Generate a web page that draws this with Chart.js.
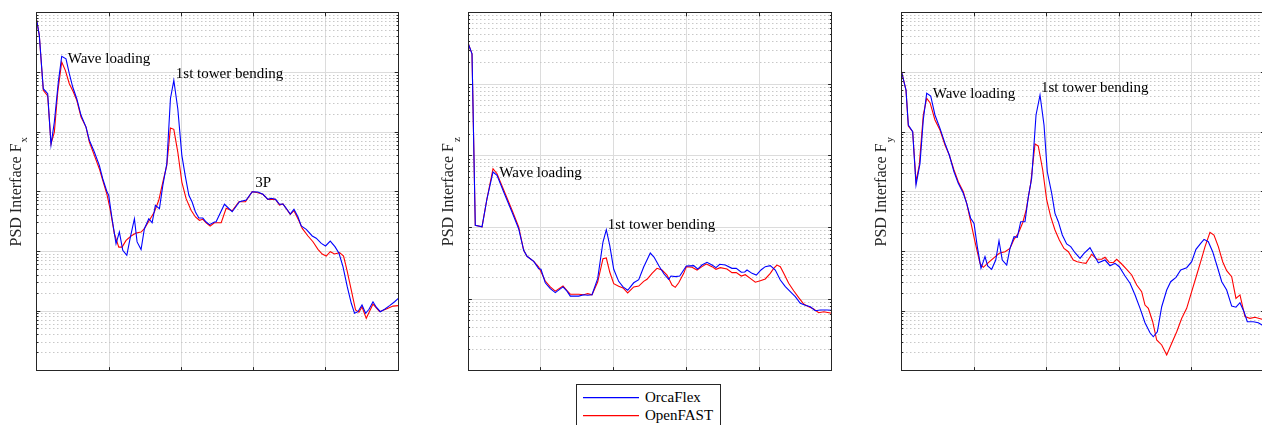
<!DOCTYPE html>
<html>
<head>
<meta charset="utf-8">
<script src="https://cdn.jsdelivr.net/npm/chart.js@4.4.1/dist/chart.umd.min.js"></script>
<style>
html, body { margin: 0; padding: 0; background: #fff; width: 1262px; height: 425px; overflow: hidden; }
canvas { position: absolute; top: 0; }
#legend { position: absolute; left: 576px; top: 384px; width: 143px; height: 44px; border: 1px solid #262626; background: #fff; font: 15px "Liberation Serif", serif; color: #000; }
#legend svg { position: absolute; left: 0; top: 0; }
#legend span { position: absolute; left: 68px; line-height: 15px; white-space: nowrap; }
</style>
</head>
<body>
<canvas id="fx" width="404" height="380" style="left:0px"></canvas>
<canvas id="fz" width="408" height="380" style="left:430px"></canvas>
<canvas id="my" width="406" height="380" style="left:862px"></canvas>
<div id="legend">
  <svg width="143" height="44"><line x1="6" y1="12.6" x2="62" y2="12.6" stroke="#0000ff" stroke-width="1.2"/><line x1="6" y1="30.6" x2="62" y2="30.6" stroke="#ff0000" stroke-width="1.2"/></svg>
  <span style="top:5px">OrcaFlex</span>
  <span style="top:23px">OpenFAST</span>
</div>
<script>
// frequency in Hz, PSD values (log axis)
const fxFreqOrca = [0, 0.0036, 0.0091, 0.0152, 0.0198, 0.0244, 0.0299, 0.0346, 0.0405, 0.0451,
  0.0498, 0.0554, 0.0613, 0.0682, 0.0728, 0.0797, 0.0866, 0.0913, 0.0969, 0.0996,
  0.1042, 0.1097, 0.1143, 0.1190, 0.1246, 0.1291, 0.1351, 0.1388, 0.1443, 0.1489,
  0.1550, 0.1596, 0.1641, 0.1697, 0.1744, 0.1799, 0.1849, 0.1896, 0.1951, 0.2007,
  0.2053, 0.2104, 0.2149, 0.2195, 0.2242, 0.2297, 0.2343, 0.2389, 0.2458, 0.2481,
  0.2596, 0.2703, 0.2804, 0.2897, 0.2980, 0.3058, 0.3128, 0.3197, 0.3243, 0.3302,
  0.3357, 0.3405, 0.3450, 0.3506, 0.3557, 0.3612, 0.3658, 0.3727, 0.3810, 0.3865,
  0.3935, 0.3994, 0.4059, 0.4124, 0.4180, 0.4235, 0.4294, 0.4350, 0.4395, 0.4442,
  0.4498, 0.4548, 0.4595, 0.4650, 0.4696, 0.4751, 0.4811, 0.4880, 0.4949, 0.5];
const fxOrca = [7.45e5, 4.18e5, 5.32e4, 4.39e4, 6130, 1.47e4, 6.89e4, 1.86e5, 1.69e5, 9.49e4,
  5.68e4, 3.62e4, 1.91e4, 1.21e4, 7270, 4620, 2770, 1650, 1020, 869,
  352, 134, 211, 104, 85.9, 163, 352, 144, 107, 240,
  352, 302, 592, 519, 1280, 2940, 3.62e4, 7.36e4, 2.46e4, 4070,
  1880, 869, 672, 457, 362, 362, 310, 280, 310, 314,
  615, 462, 679, 726, 1000, 988, 904, 745, 775, 745,
  615, 622, 527, 423, 507, 381, 266, 234, 181, 166,
  136, 123, 149, 120, 92.8, 55.3, 25.6, 13.5, 9.16, 9.75,
  12.6, 9.16, 10.7, 14.3, 11.6, 9.75, 10.7, 12.3, 14.3, 16.3];
const fxFreqOpen = [0, 0.0036, 0.0091, 0.0152, 0.0198, 0.0244, 0.0291, 0.0346, 0.0396, 0.0451,
  0.0507, 0.0554, 0.0613, 0.0682, 0.0728, 0.0797, 0.0866, 0.0913, 0.0969, 0.1014,
  0.1074, 0.1135, 0.1180, 0.1236, 0.1305, 0.1374, 0.1443, 0.1489, 0.1558, 0.1627,
  0.1688, 0.1744, 0.1799, 0.1849, 0.1896, 0.1951, 0.2007, 0.2066, 0.2135, 0.2195,
  0.2250, 0.2297, 0.2343, 0.2398, 0.2458, 0.2551, 0.2620, 0.2703, 0.2796, 0.2887,
  0.2980, 0.3058, 0.3128, 0.3197, 0.3302, 0.3357, 0.3405, 0.3506, 0.3557, 0.3626,
  0.3672, 0.3751, 0.3820, 0.3889, 0.3948, 0.4004, 0.4059, 0.4119, 0.4188, 0.4243,
  0.4290, 0.4350, 0.4409, 0.4456, 0.4498, 0.4557, 0.4650, 0.4741, 0.4834, 0.4927, 0.5];
const fxOpen = [7.45e5, 4.18e5, 5.00e4, 4.02e4, 6370, 1.00e4, 4.69e4, 1.49e5, 1.08e5, 6.45e4,
  4.69e4, 3.40e4, 1.79e4, 1.21e4, 6810, 4070, 2430, 1550, 925, 519,
  198, 118, 118, 153, 181, 203, 211, 240, 332, 457,
  718, 1450, 2770, 1.17e4, 1.11e4, 4620, 1450, 764, 488, 377,
  332, 345, 302, 266, 302, 302, 527, 480, 679, 679,
  1000, 962, 904, 745, 745, 598, 622, 418, 480, 326,
  243, 181, 145, 108, 90.3, 83.6, 98.7, 90.3, 95.0, 83.6,
  48.7, 22.5, 10.4, 9.52, 11.8, 7.55, 13.1, 9.75, 10.8, 12.1, 12.3];

const fzFreqOrca = [0, 0.0051, 0.0096, 0.0189, 0.0257, 0.0340, 0.0395, 0.0487, 0.0601, 0.0693,
  0.0762, 0.0808, 0.0900, 0.0969, 0.1000, 0.1059, 0.1128, 0.1197, 0.1303, 0.1358,
  0.1403, 0.1519, 0.1588, 0.1643, 0.1702, 0.1780, 0.1853, 0.1899, 0.1946, 0.2001,
  0.2069, 0.2129, 0.2193, 0.2276, 0.2345, 0.2413, 0.2504, 0.2555, 0.2624, 0.2693,
  0.2757, 0.2789, 0.2848, 0.2909, 0.3000, 0.3101, 0.3156, 0.3215, 0.3284, 0.3353,
  0.3408, 0.3459, 0.3536, 0.3628, 0.3687, 0.3756, 0.3803, 0.3835, 0.3904, 0.3963,
  0.4027, 0.4086, 0.4155, 0.4224, 0.4293, 0.4362, 0.4430, 0.4499, 0.4568, 0.4637,
  0.4706, 0.4774, 0.4843, 0.4935, 0.5];
const fzOrca = [3.69e4, 2.67e4, 107, 102, 252, 596, 536, 313, 165, 96.2,
  48.0, 39.6, 33.7, 26.6, 26.1, 16.9, 14.0, 12.3, 14.8, 12.9,
  11.0, 11.0, 11.5, 11.3, 11.5, 19.3, 62.7, 93.1, 56.4, 26.1,
  17.7, 14.8, 13.3, 16.9, 18.7, 28.1, 44.0, 38.7, 29.0, 22.4,
  18.9, 21.0, 20.6, 21.0, 29.0, 29.3, 26.3, 29.9, 32.7, 29.9,
  27.5, 30.6, 29.9, 26.9, 26.9, 23.7, 23.9, 25.5, 22.9, 21.7,
  25.5, 28.4, 29.3, 25.5, 18.5, 14.9, 12.7, 10.8, 8.73, 8.19,
  7.83, 6.89, 7.04, 7.04, 6.99];
const fzFreqOpen = [0, 0.0051, 0.0096, 0.0189, 0.0257, 0.0340, 0.0395, 0.0487, 0.0601, 0.0693,
  0.0762, 0.0808, 0.0900, 0.0969, 0.1059, 0.1128, 0.1197, 0.1303, 0.1358, 0.1403,
  0.1519, 0.1588, 0.1643, 0.1702, 0.1780, 0.1853, 0.1899, 0.1946, 0.2001, 0.2069,
  0.2129, 0.2193, 0.2276, 0.2345, 0.2413, 0.2459, 0.2528, 0.2596, 0.2665, 0.2734,
  0.2803, 0.2848, 0.2895, 0.2964, 0.3000, 0.3078, 0.3147, 0.3215, 0.3275, 0.3353,
  0.3408, 0.3467, 0.3559, 0.3628, 0.3687, 0.3756, 0.3811, 0.3880, 0.3949, 0.4018,
  0.4086, 0.4155, 0.4202, 0.4247, 0.4293, 0.4340, 0.4408, 0.4477, 0.4546, 0.4615,
  0.4684, 0.4752, 0.4821, 0.4890, 0.5];
const fzOpen = [3.69e4, 2.67e4, 107, 102, 252, 663, 564, 334, 176, 102,
  48.0, 39.6, 33.7, 28.1, 17.9, 14.8, 12.9, 15.2, 13.1, 11.7,
  11.7, 11.5, 11.9, 11.5, 17.3, 36.7, 37.5, 23.9, 16.4, 15.1,
  14.3, 12.2, 14.8, 15.2, 17.7, 18.9, 22.9, 26.9, 25.5, 21.7,
  15.7, 14.6, 16.9, 22.9, 28.4, 27.8, 25.5, 28.4, 30.9, 28.4,
  26.1, 27.5, 26.3, 23.4, 23.4, 21.0, 21.9, 19.5, 17.2, 18.1,
  19.1, 22.9, 26.9, 29.9, 28.4, 22.9, 16.6, 13.1, 10.5, 8.54,
  7.83, 7.27, 6.46, 6.67, 6.33];

const myFreqOrca = [0, 0.0062, 0.0094, 0.0154, 0.0200, 0.0255, 0.0300, 0.0347, 0.0402, 0.0461,
  0.0530, 0.0599, 0.0658, 0.0723, 0.0782, 0.0851, 0.0898, 0.0953, 0.0999, 0.1044,
  0.1095, 0.1150, 0.1187, 0.1242, 0.1298, 0.1343, 0.1388, 0.1449, 0.1494, 0.1550,
  0.1595, 0.1642, 0.1701, 0.1747, 0.1793, 0.1853, 0.1908, 0.1963, 0.2008, 0.2069,
  0.2114, 0.2160, 0.2215, 0.2275, 0.2331, 0.2390, 0.2459, 0.2514, 0.2596, 0.2652,
  0.2711, 0.2803, 0.2872, 0.2941, 0.3000, 0.3079, 0.3148, 0.3217, 0.3286, 0.3354,
  0.3423, 0.3468, 0.3524, 0.3584, 0.3653, 0.3708, 0.3781, 0.3846, 0.3928, 0.3997,
  0.4056, 0.4121, 0.4167, 0.4226, 0.4286, 0.4350, 0.4411, 0.4479, 0.4548, 0.4607,
  0.4662, 0.4718, 0.4763, 0.4846, 0.4915, 0.4966, 0.5];
const myOrca = [1.03e5, 5.06e4, 1.31e4, 1.01e4, 1290, 2990, 1.59e4, 4.46e4, 4.02e4, 1.93e4,
  1.15e4, 6470, 4120, 2160, 1380, 940, 639, 358, 295, 120,
  52.0, 81.5, 56.9, 50.0, 71.6, 151, 71.6, 59.0, 112, 176,
  172, 314, 314, 824, 1680, 1.93e4, 4.17e4, 1.31e4, 2160, 940,
  434, 314, 188, 133, 120, 95.0, 76.5, 92.8, 115, 86.9,
  64.6, 71.6, 57.5, 63.1, 55.3, 38.6, 29.2, 18.6, 11.1, 6.37,
  4.33, 3.71, 4.50, 11.8, 22.5, 31.0, 36.7, 48.7, 53.2, 67.1,
  108, 136, 159, 145, 98.7, 55.3, 31.0, 22.5, 12.1, 11.6,
  13.8, 9.75, 6.62, 6.62, 6.37, 5.83, 5.61];
const myFreqOpen = [0, 0.0062, 0.0094, 0.0154, 0.0200, 0.0245, 0.0300, 0.0347, 0.0393, 0.0461,
  0.0530, 0.0599, 0.0658, 0.0723, 0.0782, 0.0851, 0.0898, 0.0953, 0.1012, 0.1081,
  0.1127, 0.1196, 0.1264, 0.1347, 0.1426, 0.1494, 0.1550, 0.1609, 0.1669, 0.1715,
  0.1780, 0.1839, 0.1884, 0.1945, 0.2000, 0.2055, 0.2114, 0.2174, 0.2238, 0.2298,
  0.2366, 0.2421, 0.2486, 0.2541, 0.2620, 0.2689, 0.2758, 0.2803, 0.2862, 0.2917,
  0.2964, 0.3033, 0.3102, 0.3171, 0.3240, 0.3308, 0.3354, 0.3400, 0.3460, 0.3515,
  0.3584, 0.3653, 0.3722, 0.3791, 0.3860, 0.3928, 0.3997, 0.4066, 0.4121, 0.4181,
  0.4249, 0.4304, 0.4364, 0.4424, 0.4479, 0.4548, 0.4607, 0.4662, 0.4731, 0.4800,
  0.4869, 0.4966, 0.5];
const myOpen = [1.03e5, 5.06e4, 1.26e4, 1.01e4, 1470, 2800, 1.93e4, 3.67e4, 3.10e4, 1.59e4,
  1.08e4, 6060, 4120, 2310, 1470, 1000, 639, 314, 145, 63.1,
  54.1, 64.6, 76.5, 92.8, 98.7, 112, 159, 201, 302, 480,
  1380, 6300, 5830, 2310, 726, 381, 228, 155, 112, 98.7,
  71.6, 67.1, 64.6, 63.1, 89.3, 73.6, 73.6, 79.5, 65.6, 64.6,
  73.6, 61.4, 50.0, 40.2, 27.3, 21.1, 12.6, 11.1, 6.62, 3.27,
  2.70, 1.83, 2.88, 4.50, 7.55, 11.1, 21.1, 40.2, 67.1, 120,
  209, 188, 120, 67.1, 47.4, 37.6, 16.3, 18.6, 8.04, 7.55,
  7.85, 7.27, 7.08];

const xTicks = [0, 0.1, 0.2, 0.3, 0.4, 0.5];

Chart.defaults.font.family = '"Liberation Serif", serif';

function isDecade(v) {
  const l = Math.log10(v);
  return Math.abs(l - Math.round(l)) < 1e-9;
}

function logTicks(maxExp) {
  const t = [];
  for (let e = 0; e < maxExp; e++) {
    for (let m = 1; m < 10; m++) t.push({ value: m * Math.pow(10, e) });
  }
  t.push({ value: Math.pow(10, maxExp) });
  return t;
}

function pts(fr, vals) {
  return fr.map((f, i) => ({ x: f, y: vals[i] }));
}

function align(p) {
  return Math.round(p - 0.5) + 0.5;
}

const deco = {
  id: 'deco',
  afterDraw(chart, args, opts) {
    const { ctx, chartArea: a, scales: { x, y } } = chart;
    ctx.save();
    ctx.strokeStyle = '#262626';
    ctx.lineWidth = 1;
    ctx.beginPath();
    y.ticks.forEach(t => {
      const py = align(y.getPixelForValue(t.value));
      const len = isDecade(t.value) ? 3.6 : 1.8;
      ctx.moveTo(a.left, py); ctx.lineTo(a.left + len, py);
      ctx.moveTo(a.right, py); ctx.lineTo(a.right - len, py);
    });
    x.ticks.forEach(t => {
      const px = align(x.getPixelForValue(t.value));
      ctx.moveTo(px, a.bottom); ctx.lineTo(px, a.bottom - 3.6);
      ctx.moveTo(px, a.top); ctx.lineTo(px, a.top + 3.6);
    });
    ctx.stroke();
    const l = align(a.left), r = align(a.right), tp = align(a.top), b = align(a.bottom);
    ctx.strokeRect(l, tp, r - l, b - tp);

    // annotations
    ctx.fillStyle = '#000';
    ctx.font = '15px "Liberation Serif"';
    ctx.textAlign = 'left';
    ctx.textBaseline = 'alphabetic';
    opts.notes.forEach(n => ctx.fillText(n.text, x.getPixelForValue(n.x), y.getPixelForValue(n.y)));

    // y axis label with subscript
    ctx.fillStyle = '#262626';
    ctx.font = '16px "Liberation Serif"';
    const w1 = ctx.measureText(opts.label).width;
    ctx.font = '11px "Liberation Serif"';
    const w2 = ctx.measureText(opts.sub).width;
    ctx.translate(a.left + opts.dx, (a.top + a.bottom) / 2);
    ctx.rotate(-Math.PI / 2);
    const start = -(w1 + w2 + 1) / 2;
    ctx.font = '16px "Liberation Serif"';
    ctx.fillText(opts.label, start, 0);
    ctx.font = '11px "Liberation Serif"';
    ctx.fillText(opts.sub, start + w1 + 1, 6.8);
    ctx.restore();
  }
};

function makePanel(id, cfg) {
  new Chart(document.getElementById(id), {
    type: 'line',
    data: {
      datasets: [
        { label: 'OrcaFlex', data: pts(cfg.fA, cfg.vA), borderColor: '#0000ff', borderWidth: 1.1, pointRadius: 0, tension: 0 },
        { label: 'OpenFAST', data: pts(cfg.fB, cfg.vB), borderColor: '#ff0000', borderWidth: 1.1, pointRadius: 0, tension: 0 }
      ]
    },
    options: {
      responsive: false,
      animation: false,
      devicePixelRatio: 1,
      layout: { padding: cfg.pad },
      plugins: {
        legend: { display: false },
        tooltip: { enabled: false },
        deco: { label: 'PSD Interface F', sub: cfg.sub, dx: cfg.dx, notes: cfg.notes }
      },
      scales: {
        x: {
          type: 'linear', min: 0, max: 0.5,
          afterBuildTicks: s => { s.ticks = xTicks.map(v => ({ value: v })); },
          afterFit: s => { s.height = 0; },
          ticks: { display: false },
          grid: { color: '#dcdcdc', lineWidth: 1, drawTicks: false },
          border: { display: false }
        },
        y: {
          type: 'logarithmic', min: 1, max: Math.pow(10, cfg.maxExp),
          afterBuildTicks: s => { s.ticks = logTicks(cfg.maxExp); },
          afterFit: s => { s.width = 0; },
          ticks: { display: false },
          grid: {
            color: c => (c.tick && !isDecade(c.tick.value)) ? '#c8c8c8' : '#dcdcdc',
            lineWidth: 1, drawTicks: false
          },
          border: {
            display: false,
            dash: c => (c.tick && !isDecade(c.tick.value)) ? [1.5, 2.5] : []
          }
        }
      }
    },
    plugins: [deco]
  });
}

makePanel('fx', {
  fA: fxFreqOrca, vA: fxOrca, fB: fxFreqOpen, vB: fxOpen, maxExp: 6,
  pad: { left: 36.7, right: 5.7, top: 12.7, bottom: 9.3 }, sub: 'x', dx: -16.2,
  notes: [
    { text: 'Wave loading', x: 0.0429, y: 1.42e5 },
    { text: '1st tower bending', x: 0.1924, y: 8.04e4 },
    { text: '3P', x: 0.3021, y: 1.21e3 }
  ]
});
makePanel('fz', {
  fA: fzFreqOrca, vA: fzOrca, fB: fzFreqOpen, vB: fzOpen, maxExp: 5,
  pad: { left: 38.3, right: 6.3, top: 12.7, bottom: 9.3 }, sub: 'z', dx: -15.3,
  notes: [
    { text: 'Wave loading', x: 0.0427, y: 512 },
    { text: '1st tower bending', x: 0.1918, y: 96.8 }
  ]
});
makePanel('my', {
  fA: myFreqOrca, vA: myOrca, fB: myFreqOpen, vB: myOpen, maxExp: 6,
  pad: { left: 39.5, right: 3.5, top: 12.7, bottom: 9.3 }, sub: 'y', dx: -15.5,
  notes: [
    { text: 'Wave loading', x: 0.0430, y: 3.79e4 },
    { text: '1st tower bending', x: 0.1921, y: 4.72e4 }
  ]
});
</script>
</body>
</html>
